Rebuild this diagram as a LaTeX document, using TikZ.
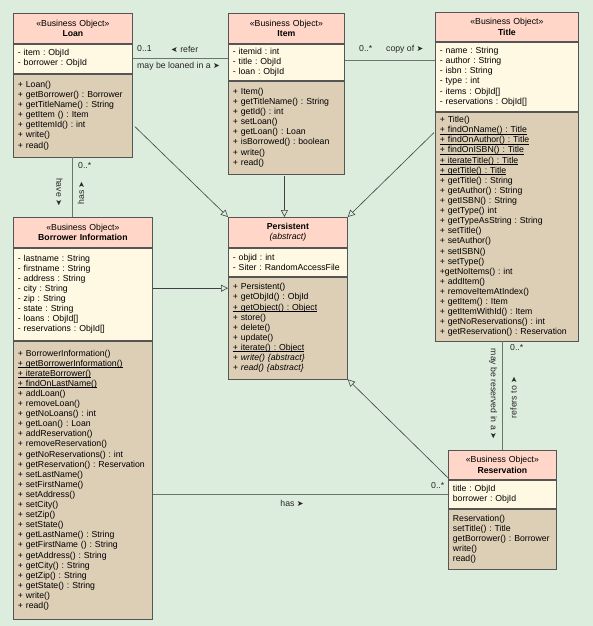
\documentclass[tikz,border=0pt]{standalone}
\usepackage{fontspec}
\setmainfont{Liberation Sans}
\newfontfamily\symbolfont{DejaVu Sans}
\usepackage{graphicx}
\usetikzlibrary{positioning, arrows.meta}
\definecolor{paper}{RGB}{221, 237, 221}
\definecolor{header}{RGB}{255, 214, 199}
\definecolor{attribs}{RGB}{255, 248, 226}
\definecolor{methods}{RGB}{221, 206, 182}
\definecolor{outline}{RGB}{85, 85, 85}
\definecolor{wire}{RGB}{105, 118, 105}
\newcommand{\fwd}{{\symbolfont\footnotesize ➤}}
\newcommand{\bwd}{\reflectbox{\fwd}}
\newcommand{\bizobj}{«Business Object»}
\newcommand{\static}[1]{\leavevmode\setbox0\hbox{#1}\rlap{\rule[-1.3pt]{\wd0}{0.5pt}}\box0}
\frenchspacing

\begin{document}
\begin{tikzpicture}
  [
    x=1pt, y=-1pt,
    every node/.style={font=\fontsize{8.7}{10.1}\selectfont},
    part/.style={draw=outline, line width=0.8pt, inner xsep=4.5pt, inner ysep=2pt, align=left},
    head/.style={part, fill=header, align=center},
    attr/.style={part, fill=attribs, below=0pt of #1},
    meth/.style={part, fill=methods, below=0pt of #1},
    assoc/.style={wire, line width=1pt},
    general/.style={line width=0.6pt, black!75, -{Triangle[open, length=7pt, width=7pt]}},
    lbl/.style={inner sep=0pt, text=black!85}
  ]
  \fill[paper] (0,0) rectangle (593,626);
  \useasboundingbox (0,0) rectangle (593,626);

  % Loan
  \node[head, text width=110pt, minimum height=30pt, anchor=north west] (loan) at (13,13) {\bizobj\\\textbf{Loan}};
  \node[attr=loan, text width=110pt, minimum height=29pt] (loan-a) {- item : ObjId\\- borrower : ObjId};
  \node[meth=loan-a, text width=110pt, minimum height=83pt] (loan-m) {+ Loan()\\+ getBorrower() : Borrower\\+ getTitleName() : String\\+ getItem () : Item\\+ getItemId() : int\\+ write()\\+ read()};

  % Item
  \node[head, text width=107pt, minimum height=30pt, anchor=north west] (item) at (228,13) {\bizobj\\\textbf{Item}};
  \node[attr=item, text width=107pt, minimum height=36pt] (item-a) {- itemid : int\\- title : ObjId\\- loan : ObjId};
  \node[meth=item-a, text width=107pt, minimum height=93pt] (item-m) {+ Item()\\+ getTitleName() : String\\+ getId() : int\\+ setLoan()\\+ getLoan() : Loan\\+ isBorrowed() : boolean\\+ write()\\+ read()};

  % Title
  \node[head, text width=134pt, minimum height=29pt, anchor=north west] (title) at (435,12) {\bizobj\\\textbf{Title}};
  \node[attr=title, text width=134pt, minimum height=69pt] (title-a) {- name : String\\- author : String\\- isbn : String\\- type : int\\- items : ObjId[]\\- reservations : ObjId[]};
  \node[meth=title-a, text width=134pt, minimum height=229pt] (title-m) {+ Title()\\\static{+ findOnName() : Title}\\\static{+ findOnAuthor() : Title}\\\static{+ findOnISBN() : Title}\\\static{+ iterateTitle() : Title}\\\static{+ getTitle() : Title}\\+ getTitle() : String\\+ getAuthor() : String\\+ getISBN() : String\\+ getType() int\\+ getTypeAsString : String\\+ setTitle()\\+ setAuthor()\\+ setISBN()\\+ setType()\\+getNoItems() : int\\+ addItem()\\+ removeItemAtIndex()\\+ getItem() : Item\\+ getItemWithId() : Item\\+ getNoReservations() : int\\+ getReservation() : Reservation};

  % Borrower Information
  \node[head, text width=130pt, minimum height=30pt, anchor=north west] (borr) at (13,217) {\bizobj\\\textbf{Borrower Information}};
  \node[attr=borr, text width=130pt, minimum height=92pt] (borr-a) {- lastname : String\\- firstname : String\\- address : String\\- city : String\\- zip : String\\- state : String\\- loans : ObjId[]\\- reservations : ObjId[]};
  \node[meth=borr-a, text width=130pt, minimum height=278pt] (borr-m) {+ BorrowerInformation()\\\static{+ getBorrowerInformation()}\\\static{+ iterateBorrower()}\\\static{+ findOnLastName()}\\+ addLoan()\\+ removeLoan()\\+ getNoLoans() : int\\+ getLoan() : Loan\\+ addReservation()\\+ removeReservation()\\+ getNoReservations() : int\\+ getReservation() : Reservation\\+ setLastName()\\+ setFirstName()\\+ setAddress()\\+ setCity()\\+ setZip()\\+ setState()\\+ getLastName() : String\\+ getFirstName () : String\\+ getAddress() : String\\+ getCity() : String\\+ getZip() : String\\+ getState() : String\\+ write()\\+ read()};

  % Persistent
  \node[head, text width=110pt, minimum height=30pt, anchor=north west] (pers) at (228,217) {\textbf{Persistent}\\\textit{(abstract)}};
  \node[attr=pers, text width=110pt, minimum height=28pt] (pers-a) {- objid : int\\- Siter : RandomAccessFile};
  \node[meth=pers-a, text width=110pt, minimum height=102pt] (pers-m) {+ Persistent()\\+ getObjId() : ObjId\\\static{+ getObject() : Object}\\+ store()\\+ delete()\\+ update()\\\static{+ iterate() : Object}\\\textit{+ write() \{abstract\}}\\\textit{+ read() \{abstract\}}};

  % Reservation
  \node[head, text width=99pt, minimum height=29pt, anchor=north west] (res) at (448,450) {\bizobj\\\textbf{Reservation}};
  \node[attr=res, text width=99pt, minimum height=28pt] (res-a) {title : ObjId\\borrower : ObjId};
  \node[meth=res-a, text width=99pt, minimum height=60pt] (res-m) {Reservation()\\setTitle() : Title\\getBorrower() : Borrower\\write()\\read()};

  % associations
  \draw[assoc] (loan-a.east) -- (loan-a.east -| item-a.west);
  \draw[assoc] ([yshift=2pt]item-a.east) -- ([yshift=2pt]item-a.east -| title-a.west);
  \draw[assoc] (loan-m.south) -- (loan-m.south |- borr.north);
  \draw[assoc] (res.north) -- (res.north |- title-m.south);
  \draw[assoc] (res-a.west) -- (res-a.west -| borr-m.east);

  % generalizations
  \draw[general] ([xshift=2pt, yshift=-11pt]loan-m.east) -- (pers.north west);
  \draw[general] ([xshift=-2pt, yshift=-2pt]item-m.south) -- ([xshift=-2pt]item-m.south |- pers.north);
  \draw[general] ([xshift=-1pt, yshift=-21pt]title-m.north west) -- (pers.north east);
  \draw[general] ([yshift=6pt]borr-a.east) -- ([yshift=6pt]borr-a.east -| pers-m.west);
  \draw[general] ([yshift=2pt]res.south west) -- (pers-m.south east);

  % labels
  \node[lbl, anchor=west] (loan-mult) at (137,49) {0..1};
  \node[lbl, anchor=west] (refer) at (171,49) {\bwd{} refer};
  \node[lbl, anchor=west] (loaned) at (137,66) {may be loaned in a \fwd};
  \node[lbl, anchor=west] (item-mult) at (359,49) {0..*};
  \node[lbl, anchor=west] (copyof) at (386,49) {copy of \fwd};
  \node[lbl, anchor=west] (borr-mult) at (78,166) {0..*};
  \node[lbl, rotate=-90] (have) at (59.5,192) {have \fwd};
  \node[lbl, rotate=90] (has) at (81,193) {has \fwd};
  \node[lbl, anchor=west] (res-mult) at (510,348) {0..*};
  \node[lbl, rotate=-90] (reserved) at (493,394) {may be reserved in a \fwd};
  \node[lbl, rotate=90] (refers) at (513.5,397.5) {refers to \fwd};
  \node[lbl, anchor=west] (resb-mult) at (431,485) {0..*};
  \node[lbl] (hasres) at (292,503) {has \fwd};
\end{tikzpicture}
\end{document}
